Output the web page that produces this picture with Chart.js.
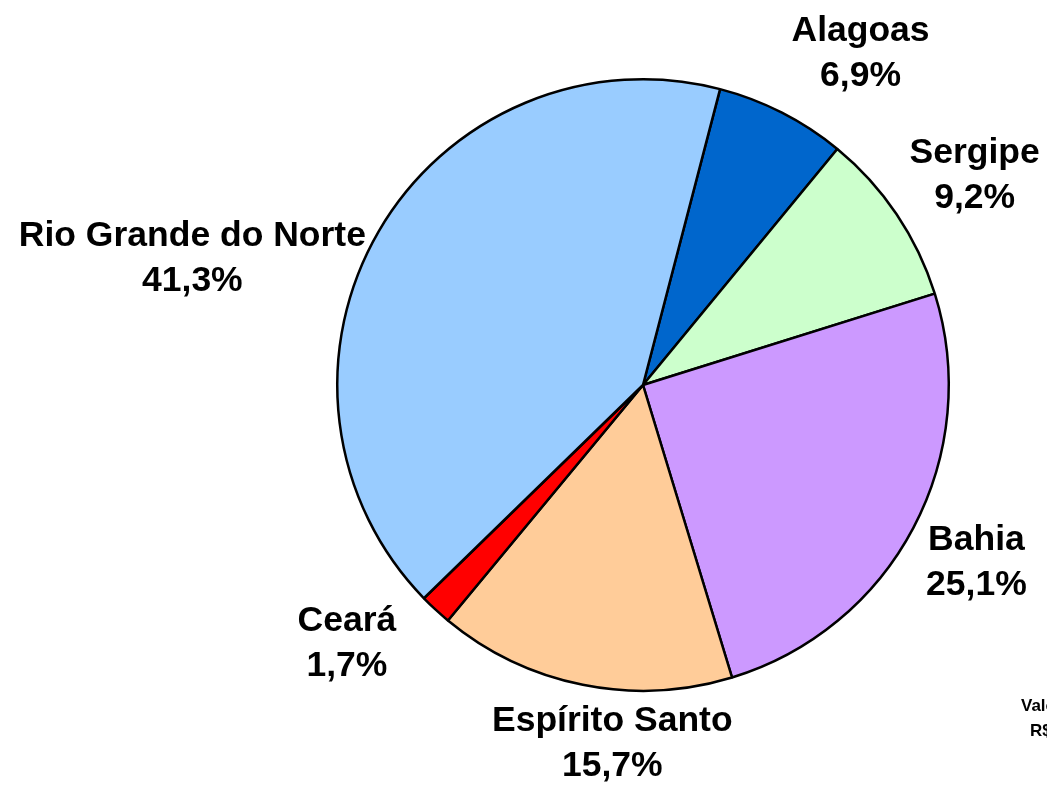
<!DOCTYPE html>
<html>
<head>
<meta charset="utf-8">
<script src="https://cdn.jsdelivr.net/npm/chart.js@4/dist/chart.umd.min.js"></script>
<style>
html,body{margin:0;padding:0;background:#fff;}
#wrap{width:1047px;height:787px;position:relative;}
</style>
</head>
<body>
<div id="wrap"><canvas id="c" width="1047" height="787"></canvas></div>
<script>
const categories = ["Alagoas", "Sergipe", "Bahia", "Espírito Santo", "Ceará", "Rio Grande do Norte"];
const values = [6.9, 9.2, 25.1, 15.7, 1.7, 41.3];
const percentLabels = ["6,9%", "9,2%", "25,1%", "15,7%", "1,7%", "41,3%"];
const colors = ["#0066CC", "#CCFFCC", "#CC99FF", "#FFCC99", "#FF0000", "#99CCFF"];
// label placement: polar angle (deg clockwise from top) and distance as multiple of radius
const labelAngles = [33.3, 57.8, 118, 184.9, 228.8, 285.7];
const labelDist = [1.296, 1.282, 1.235, 1.176, 1.287, 1.531];

const labelPlugin = {
  id: 'outLabels',
  afterDatasetsDraw(chart) {
    const ctx = chart.ctx;
    const meta = chart.getDatasetMeta(0);
    ctx.save();
    ctx.font = 'bold 35.5px "Liberation Sans", Arial, sans-serif';
    ctx.fillStyle = '#000';
    ctx.textAlign = 'center';
    ctx.textBaseline = 'middle';
    meta.data.forEach((arc, i) => {
      const a = labelAngles[i] * Math.PI / 180;
      const d = arc.outerRadius * labelDist[i];
      const x = arc.x + Math.sin(a) * d;
      const y = arc.y - Math.cos(a) * d;
      ctx.fillText(categories[i], x, y - 22.5);
      ctx.fillText(percentLabels[i], x, y + 22.5);
    });
    ctx.font = 'bold 17px "Liberation Sans", Arial, sans-serif';
    ctx.textAlign = 'left';
    ctx.fillText('Valores em', 1021, 706);
    ctx.fillText('R$ milhões', 1030, 731);
    ctx.restore();
  }
};

new Chart(document.getElementById('c'), {
  type: 'pie',
  data: {
    labels: categories,
    datasets: [{
      data: values,
      backgroundColor: colors,
      borderColor: '#000',
      borderWidth: 2.5
    }]
  },
  options: {
    responsive: false,
    animation: false,
    rotation: 14.6,
    layout: { padding: { left: 336, right: 97, top: 78, bottom: 95 } },
    plugins: { legend: { display: false }, tooltip: { enabled: false } }
  },
  plugins: [labelPlugin]
});
</script>
</body>
</html>
